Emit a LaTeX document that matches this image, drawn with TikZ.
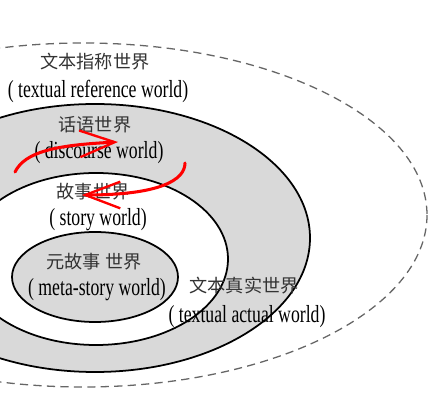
\documentclass[tikz,border=0pt]{standalone}
\usepackage{fontspec}
\setmainfont{Liberation Serif}
\newfontfamily\cjk{Noto Sans CJK SC}
\newfontfamily\narrow[FakeStretch=0.72]{Liberation Serif}
\usetikzlibrary{arrows.meta}

\begin{document}
\begin{tikzpicture}[
        x=0.03cm, y=-0.03cm,
        world/.style={draw, line width=1.5pt},
        cn/.style={inner sep=0pt, text=black!80, font=\cjk\fontsize{15.5}{18}\selectfont},
        en/.style={inner sep=0pt, font=\narrow\fontsize{21}{24}\selectfont},
        redarrow/.style={red, line width=2.6pt, line cap=round,
            -{Straight Barb[length=1.05cm, width=0.8cm, line width=2pt]}}
    ]
    \useasboundingbox (0,0) rectangle (443,405);
    \clip (0,0) rectangle (443,405);

    % worlds, outermost first
    \draw[black!60, line width=1.1pt, dash pattern=on 7pt off 4.5pt] (83,215) ellipse [x radius=344, y radius=172];
    \draw[world, fill=black!15] (95,238) ellipse [x radius=215, y radius=134];
    \draw[world, fill=white] (96,259) ellipse [x radius=132, y radius=86];
    \draw[world, fill=black!15] (95,277) ellipse [x radius=83, y radius=45];

    % labels
    \node[cn] (reference cn) at (95,62) {文本指称世界};
    \node[en] (reference en) at (98,91) {( textual reference world)};
    \node[cn] (discourse cn) at (95,125) {话语世界};
    \node[en] (discourse en) at (99,153) {( discourse world)};
    \node[cn] (story cn) at (93,192) {故事世界};
    \node[en] (story en) at (98,220) {( story world)};
    \node[cn] (meta cn) at (94,262) {元故事 世界};
    \node[en] (meta en) at (97,290) {( meta-story world)};
    \node[cn] (actual cn) at (244,286) {文本真实世界};
    \node[en] (actual en) at (247,317) {( textual actual world)};

    % red arrows between discourse and story
    \coordinate (up start) at (15,172);
    \coordinate (up end) at (118,142);
    \coordinate (down start) at (185,163);
    \coordinate (down end) at (82,195);
    \draw[redarrow] (up start) .. controls (25,152) and (55,145) .. (up end);
    \draw[redarrow] (down start) .. controls (185,180) and (160,195) .. (down end);
\end{tikzpicture}
\end{document}
